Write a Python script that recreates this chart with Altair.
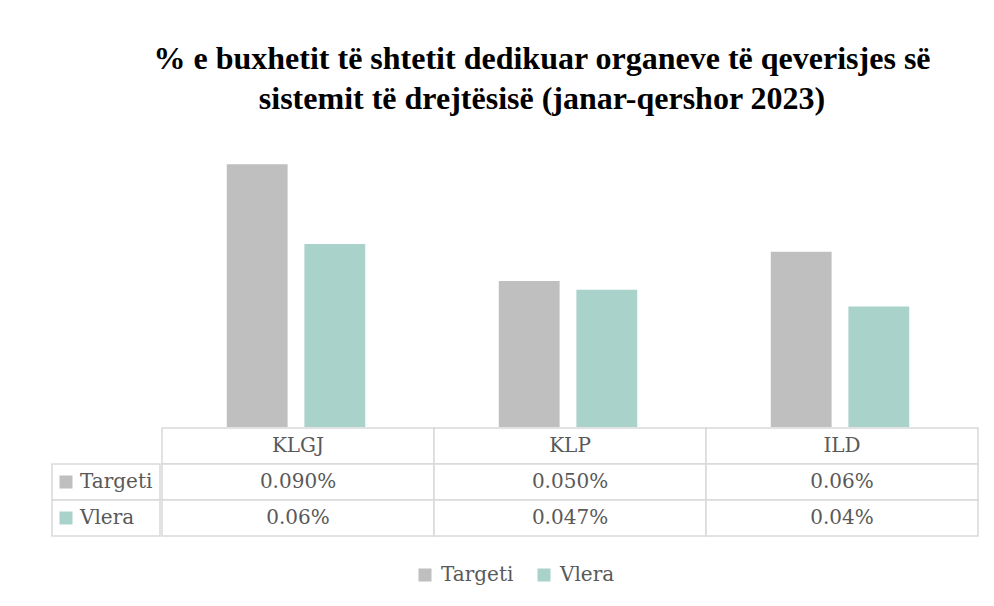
import altair as alt
import pandas as pd

categories = ["KLGJ", "KLP", "ILD"]
series = ["Targeti", "Vlera"]
targeti = [0.090, 0.050, 0.060]
vlera = [0.0627, 0.047, 0.0413]
targeti_labels = ["0.090%", "0.050%", "0.06%"]
vlera_labels = ["0.06%", "0.047%", "0.04%"]
rows = ["header", "Targeti", "Vlera"]
colors = ["#BFBFBF", "#A9D2CA"]

TXT = "#595959"
GRID = "#D9D9D9"
FONT = "DejaVu Serif"

bars_df = pd.DataFrame(
    [{"category": c, "series": "Targeti", "value": v} for c, v in zip(categories, targeti)]
    + [{"category": c, "series": "Vlera", "value": v} for c, v in zip(categories, vlera)]
)

table_df = pd.DataFrame(
    [{"category": c, "row": "header", "label": c} for c in categories]
    + [{"category": c, "row": "Targeti", "label": l} for c, l in zip(categories, targeti_labels)]
    + [{"category": c, "row": "Vlera", "label": l} for c, l in zip(categories, vlera_labels)]
)

label_df = pd.DataFrame({"col": ["lbl", "lbl"], "row": series, "series": series})

color_scale = alt.Scale(domain=series, range=colors)
xcat = alt.Scale(domain=categories, paddingInner=0, paddingOuter=0)
yrow = alt.Scale(domain=rows, paddingInner=0, paddingOuter=0)

W = 816
H = 292
LW = 108

bars = alt.Chart(bars_df).mark_bar().encode(
    x=alt.X("category:N", scale=xcat, axis=None, sort=categories),
    xOffset=alt.XOffset("series:N", scale=alt.Scale(domain=series, paddingInner=0.216, paddingOuter=0.86)),
    y=alt.Y("value:Q", scale=alt.Scale(domain=[0, 0.1]), axis=None),
    color=alt.Color(
        "series:N",
        scale=color_scale,
        legend=alt.Legend(
            title=None,
            orient="none",
            direction="horizontal",
            legendX=363,
            legendY=430,
            symbolType="square",
            symbolSize=169,
            symbolStrokeWidth=0,
            labelFont=FONT,
            labelFontSize=20,
            labelColor=TXT,
            labelOffset=6,
            columnPadding=20,
            padding=0,
        ),
    ),
).properties(width=W, height=H)

spacer = alt.Chart(pd.DataFrame({"s": [0]})).mark_point(opacity=0).encode(
    x=alt.value(0), y=alt.value(0)
).properties(width=LW, height=H)

cells = alt.Chart(table_df).mark_rect(fill="white", stroke=GRID, strokeWidth=1.5).encode(
    x=alt.X("category:N", scale=xcat, axis=None, sort=categories),
    y=alt.Y("row:N", scale=yrow, axis=None, sort=rows),
)
cell_text = alt.Chart(table_df).mark_text(font=FONT, fontSize=20, color=TXT).encode(
    x=alt.X("category:N", scale=xcat, axis=None, sort=categories),
    y=alt.Y("row:N", scale=yrow, axis=None, sort=rows),
    text="label:N",
)
table = (cells + cell_text).properties(width=W, height=108)

lbl_x = alt.X("col:N", scale=alt.Scale(domain=["lbl"], paddingInner=0, paddingOuter=0), axis=None)
lbl_y = alt.Y("row:N", scale=yrow, axis=None, sort=rows)
lbl_cells = alt.Chart(label_df).mark_rect(fill="white", stroke=GRID, strokeWidth=1.5).encode(x=lbl_x, y=lbl_y)
lbl_sq = alt.Chart(label_df).mark_square(size=169, xOffset=-40, opacity=1, strokeWidth=0).encode(
    x=lbl_x, y=lbl_y, color=alt.Color("series:N", scale=color_scale)
)
lbl_txt = alt.Chart(label_df).mark_text(font=FONT, fontSize=20, color=TXT, align="left", dx=-26).encode(
    x=lbl_x, y=lbl_y, text="row:N"
)
labels = (lbl_cells + lbl_sq + lbl_txt).properties(width=LW, height=108)

top = alt.hconcat(spacer, bars, spacing=0)
bottom = alt.hconcat(labels, table, spacing=0)

chart = alt.vconcat(top, bottom, spacing=0).properties(
    title=alt.Title(
        ["% e buxhetit të shtetit dedikuar organeve të qeverisjes së",
         "sistemit të drejtësisë (janar-qershor 2023)"],
        font="Liberation Serif",
        fontSize=32,
        fontWeight="bold",
        color="black",
        lineHeight=40,
        anchor="middle",
        dx=28,
        offset=16,
    ),
    padding={"left": 41, "top": 35, "right": 0, "bottom": 0},
).configure_view(strokeWidth=0)

chart.save("out.html", embed_options={"renderer": "svg", "actions": False})
